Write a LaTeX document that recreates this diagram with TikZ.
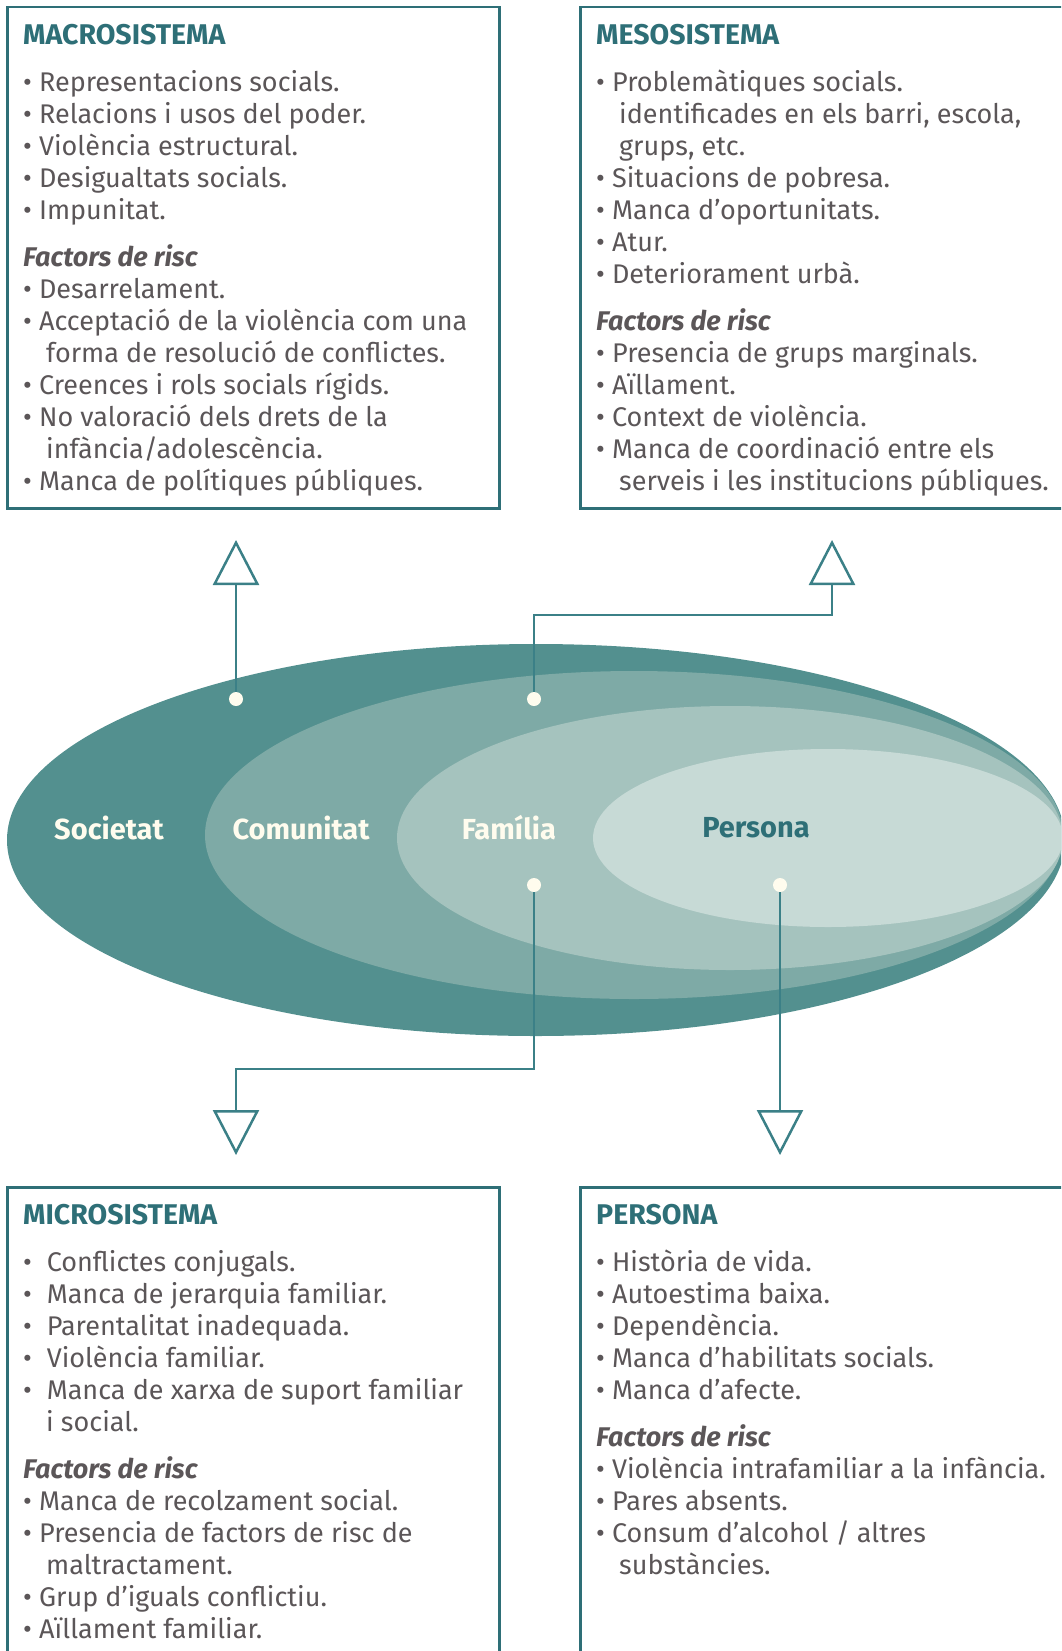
\documentclass[tikz,border=0pt]{standalone}
\usepackage{fontspec}
\setmainfont{Fira Sans}
\usetikzlibrary{arrows.meta}
\usetikzlibrary{shapes.geometric}
\usetikzlibrary{positioning}

\definecolor{tealdark}{HTML}{2E6F77}
\definecolor{tealline}{HTML}{3B8087}
\definecolor{layerone}{HTML}{53908F}
\definecolor{layertwo}{HTML}{7EAAA6}
\definecolor{layerthree}{HTML}{A5C3BE}
\definecolor{layerfour}{HTML}{C7DAD6}
\definecolor{textgrey}{HTML}{5B5658}
\definecolor{cream}{HTML}{FFFCEE}

\newcommand{\paneltitle}[1]{{\fontsize{28.5}{32}\selectfont\bfseries\color{tealdark}#1}}
\newcommand{\riskhead}{{\bfseries\itshape Factors de risc}}
\newcommand{\itm}{\textbullet\ }
\newcommand{\itmw}{\textbullet\hspace{0.55em}}
\newcommand{\cont}{\hspace*{23pt}}

\tikzset {
  % framed box round each list
  panel/.style = {
    draw = tealdark,
    line width = 2.5pt,
    rectangle,
    anchor = north west,
    inner sep = 0
  },
  % the list inside a box
  panel text/.style = {
    anchor = north west,
    inner sep = 0,
    align = left,
    text = textgrey,
    font = \fontsize{27}{32}\selectfont
  },
  % one ring of the model
  layer/.style = {
    ellipse,
    draw = none,
    inner sep = 0
  },
  layer label/.style = {
    font = \fontsize{29}{34}\selectfont\bfseries,
    text = cream
  },
  % support node
  dot/.style = {
    circle,
    fill = cream,
    minimum size = 14pt,
    inner sep = 0
  },
  % path from a ring to its box
  link/.style = {
    draw = tealline,
    line width = 2.5pt,
    -{Triangle[open, length = 45pt, width = 46pt]}
  }
}

\begin{document}
\begin{tikzpicture}[x = 1pt, y = -1pt]
    \useasboundingbox (0,0) rectangle (1061,1651);
    \clip (0,0) rectangle (1061,1651);

    % boxes
    \node[panel, minimum width = 492pt, minimum height = 501pt] (macro-box) at (6,6) {};
    \node[panel, minimum width = 600pt, minimum height = 501pt] (meso-box) at (579,6) {};
    \node[panel, minimum width = 492pt, minimum height = 600pt] (micro-box) at (6,1186) {};
    \node[panel, minimum width = 600pt, minimum height = 600pt] (persona-box) at (579,1186) {};

    \node[panel text] (macro-text) at (23,24) {%
      \paneltitle{MACROSISTEMA}\\[15pt]
      \itm Representacions socials.\\
      \itm Relacions i usos del poder.\\
      \itm Violència estructural.\\
      \itm Desigualtats socials.\\
      \itm Impunitat.\\[15pt]
      \riskhead\\
      \itm Desarrelament.\\
      \itm Acceptació de la violència com una\\
      \cont forma de resolució de conflictes.\\
      \itm Creences i rols socials rígids.\\
      \itm No valoració dels drets de la\\
      \cont infància/adolescència.\\
      \itm Manca de polítiques públiques.};

    \node[panel text] (meso-text) at (596,24) {%
      \paneltitle{MESOSISTEMA}\\[15pt]
      \itm Problemàtiques socials.\\
      \cont identificades en els barri, escola,\\
      \cont grups, etc.\\
      \itm Situacions de pobresa.\\
      \itm Manca d’oportunitats.\\
      \itm Atur.\\
      \itm Deteriorament urbà.\\[15pt]
      \riskhead\\
      \itm Presencia de grups marginals.\\
      \itm Aïllament.\\
      \itm Context de violència.\\
      \itm Manca de coordinació entre els\\
      \cont serveis i les institucions públiques.};

    \node[panel text] (micro-text) at (23,1204) {%
      \paneltitle{MICROSISTEMA}\\[15pt]
      \itmw Conflictes conjugals.\\
      \itmw Manca de jerarquia familiar.\\
      \itmw Parentalitat inadequada.\\
      \itmw Violència familiar.\\
      \itmw Manca de xarxa de suport familiar\\
      \cont i social.\\[15pt]
      \riskhead\\
      \itm Manca de recolzament social.\\
      \itm Presencia de factors de risc de\\
      \cont maltractament.\\
      \itm Grup d’iguals conflictiu.\\
      \itm Aïllament familiar.};

    \node[panel text] (persona-text) at (596,1204) {%
      \paneltitle{PERSONA}\\[15pt]
      \itm Història de vida.\\
      \itm Autoestima baixa.\\
      \itm Dependència.\\
      \itm Manca d’habilitats socials.\\
      \itm Manca d’afecte.\\[15pt]
      \riskhead\\
      \itm Violència intrafamiliar a la infància.\\
      \itm Pares absents.\\
      \itm Consum d’alcohol / altres\\
      \cont substàncies.};

    % rings
    \node[layer, fill = layerone, minimum width = 1058pt, minimum height = 392pt] (societat) at (536,840) {};
    \node[layer, fill = layertwo, minimum width = 858pt, minimum height = 328pt] (comunitat) at (634,835) {};
    \node[layer, fill = layerthree, minimum width = 666pt, minimum height = 264pt] (familia) at (730,838) {};
    \node[layer, fill = layerfour, minimum width = 470pt, minimum height = 178pt] (persona) at (828,838) {};

    \node[layer label] (societat-label) at (109,828) {Societat};
    \node[layer label] (comunitat-label) at (301,828) {Comunitat};
    \node[layer label] (familia-label) at (509,828) {Família};
    \node[layer label, text = tealdark] (persona-label) at (756,828) {Persona};

    \node[dot] (macro-dot) at (236,699) {};
    \node[dot] (meso-dot) at (534,699) {};
    \node[dot] (micro-dot) at (534,885) {};
    \node[dot] (persona-dot) at (780,885) {};

    \coordinate (macro-tip) at (236,540);
    \coordinate (meso-elbow) at (832,615);
    \coordinate (meso-tip) at (832,540);
    \coordinate (micro-elbow) at (236,1069);
    \coordinate (micro-tip) at (236,1155);
    \coordinate (persona-tip) at (780,1155);

    \draw[link] (macro-dot) -- (macro-tip);
    \draw[link] (meso-dot) |- (meso-elbow) -- (meso-tip);
    \draw[link] (micro-dot) |- (micro-elbow) -- (micro-tip);
    \draw[link] (persona-dot) -- (persona-tip);
\end{tikzpicture}
\end{document}
